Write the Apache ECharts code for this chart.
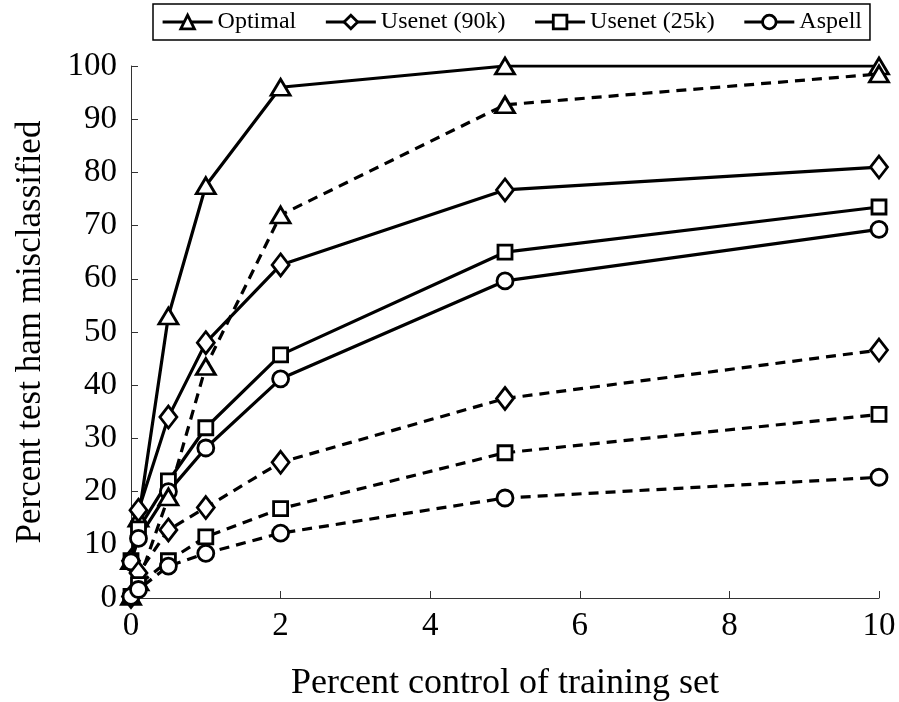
<!DOCTYPE html>
<html>
<head>
<meta charset="utf-8">
<script src="https://cdn.jsdelivr.net/npm/echarts@6/dist/echarts.min.js"></script>
<style>
  html, body { margin: 0; padding: 0; background: #fff; }
  #chart { width: 899px; height: 702px; }
</style>
</head>
<body>
<div id="chart"></div>
<script>
// percent control of training set
const xValues = [0, 0.1, 0.5, 1, 2, 5, 10]

// solid = ham misclassified (spam or unsure), dashed = ham misclassified as spam
const optimalSolid = [7, 15, 53, 77.5, 96, 100, 100]
const optimalDashed = [0.3, 3, 19, 43.5, 72, 92.7, 98.5]
const usenet90Solid = [7, 16.5, 34, 48, 62.6, 76.7, 81]
const usenet90Dashed = [0.3, 4.7, 12.8, 17, 25.5, 37.5, 46.6]
const usenet25Solid = [7, 13, 22, 32, 45.7, 65, 73.5]
const usenet25Dashed = [0.3, 2.5, 7, 11.5, 16.8, 27.3, 34.5]
const aspellSolid = [6.8, 11.2, 20, 28.2, 41.2, 59.6, 69.3]
const aspellDashed = [0.3, 1.6, 6, 8.4, 12.2, 18.8, 22.7]

const legendNames = ['Optimal', 'Usenet (90k)', 'Usenet (25k)', 'Aspell']

const FONT = 'Liberation Serif'

const symbols = {
  'Optimal': { symbol: 'triangle', size: [19, 16] },
  'Usenet (90k)': { symbol: 'diamond', size: [17, 22] },
  'Usenet (25k)': { symbol: 'rect', size: [14, 14] },
  'Aspell': { symbol: 'circle', size: 16 }
}

const pairs = (ys) => xValues.map((x, i) => [x, ys[i]])

const makeSeries = (name, ys, dashed) => ({
  name,
  type: 'line',
  data: pairs(ys),
  symbol: symbols[name].symbol,
  symbolSize: symbols[name].size,
  showAllSymbol: true,
  lineStyle: { color: '#000', width: 3.2, type: dashed ? [10, 7] : 'solid' },
  itemStyle: { color: '#fff', borderColor: '#000', borderWidth: 2.8 },
  emphasis: { disabled: true },
  animation: false
})

const chart = echarts.init(document.getElementById('chart'))
chart.setOption({
  backgroundColor: '#fff',
  legend: {
    data: legendNames,
    left: 153,
    top: 4,
    width: 740,
    itemWidth: 50,
    itemHeight: 17,
    itemGap: 28,
    padding: [6, 8, 6, 8],
    borderColor: '#000',
    borderWidth: 1.5,
    lineStyle: { width: 3.2 },
    itemStyle: { borderWidth: 2.8 },
    textStyle: { fontFamily: FONT, fontSize: 24, color: '#000' }
  },
  grid: { left: 131, right: 20, top: 66, bottom: 104, containLabel: false, outerBoundsMode: 'none' },
  xAxis: {
    type: 'value',
    min: 0,
    max: 10,
    interval: 2,
    name: 'Percent control of training set',
    nameLocation: 'middle',
    nameGap: 68,
    nameTextStyle: { fontFamily: FONT, fontSize: 36, color: '#000' },
    axisLine: { lineStyle: { color: '#333', width: 1 } },
    axisTick: { inside: true, length: 7, lineStyle: { color: '#333' } },
    axisLabel: { fontFamily: FONT, fontSize: 33, color: '#000', margin: 12 },
    splitLine: { show: false }
  },
  yAxis: {
    type: 'value',
    min: 0,
    max: 100,
    interval: 10,
    name: 'Percent test ham misclassified',
    nameLocation: 'middle',
    nameGap: 83,
    nameTextStyle: { fontFamily: FONT, fontSize: 35, color: '#000' },
    axisLine: { show: true, lineStyle: { color: '#333', width: 1 } },
    axisTick: { show: true, inside: true, length: 7, lineStyle: { color: '#333' } },
    axisLabel: { fontFamily: FONT, fontSize: 33, color: '#000', margin: 14 },
    splitLine: { show: false }
  },
  series: [
    makeSeries('Optimal', optimalSolid, false),
    makeSeries('Usenet (90k)', usenet90Solid, false),
    makeSeries('Usenet (25k)', usenet25Solid, false),
    makeSeries('Aspell', aspellSolid, false),
    makeSeries('Optimal', optimalDashed, true),
    makeSeries('Usenet (90k)', usenet90Dashed, true),
    makeSeries('Usenet (25k)', usenet25Dashed, true),
    makeSeries('Aspell', aspellDashed, true)
  ]
})
</script>
</body>
</html>
